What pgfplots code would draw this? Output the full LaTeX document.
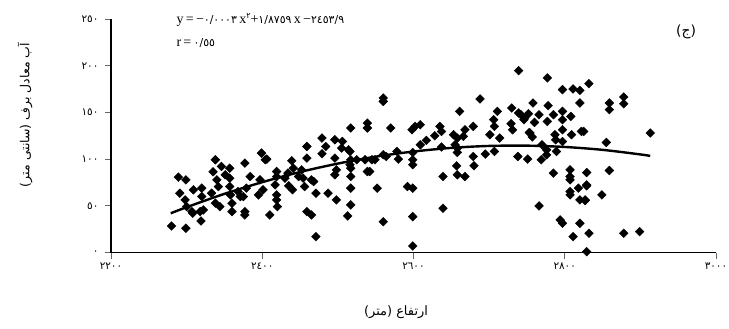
\documentclass[border=0pt]{standalone}
\usepackage{pgfplots}
\pgfplotsset{compat=1.18}
\usepackage{fontspec}
\setmainfont{Liberation Serif}
\newfontfamily\arabicfont[Script=Arabic]{DejaVu Sans}
\TeXXeTstate=1
\begin{document}
\begin{tikzpicture}
\path[use as bounding box] (-111bp,-76.5bp) rectangle (618bp,252.5bp);
\begin{axis}[
 at={(0,0)}, anchor=south west,
 scale only axis, width=605bp, height=233.5bp,
 xmin=2200, xmax=3000, ymin=0, ymax=250,
 axis x line*=bottom, axis y line*=left,
 axis line style={-, line width=1.3bp, black},
 tick align=outside, major tick length=6bp,
 tick style={black!60, line width=0.8bp},
 xtick={2200,2400,2600,2800,3000},
 xticklabels={٢٢٠٠,٢٤٠٠,٢٦٠٠,٢٨٠٠,٣٠٠٠},
 ytick={0,50,100,150,200,250},
 yticklabels={٠,٥٠,١٠٠,١٥٠,٢٠٠,٢٥٠},
 ticklabel style={font=\arabicfont\fontsize{10.5}{12}\selectfont},
 yticklabel style={xshift=-3bp},
 xticklabel style={yshift=-1bp},
 clip=false,
]
\addplot[only marks, mark=square*, mark size=3.1bp, mark options={rotate=45, fill=black, draw=black}] coordinates {
(2280,28.4)(2299,26.0)(2289,80.7)(2299,77.8)(2291,63.5)(2298,56.3)(2300,49.1)(2307,43.8)(2309,67.1)(2320,68.9)
(2320,59.9)(2318,43.8)(2319,33.8)(2333,63.5)(2338,99.3)(2340,77.8)(2338,52.8)(2344,49.1)(2346,92.1)(2357,90.3)
(2357,79.6)(2357,70.6)(2360,43.8)(2368,65.2)(2377,95.7)(2377,43.8)(2377,40.2)(2384,81.3)(2379,68.9)(2375,59.9)
(2395,61.7)(2399,106.4)(2404,99.3)(2397,77.8)(2401,67.1)(2358,61.7)(2360,52.8)(2342,70.6)(2371,59.9)(2308,42.1)
(2322,45.6)(2335,86.4)(2351,83.2)
(2406,100.0)(2410,40.2)(2419,86.7)(2419,81.3)(2417,72.4)(2419,61.7)(2419,56.3)(2420,49.1)(2434,85.0)(2430,79.6)
(2435,71.4)(2439,98.2)(2441,90.3)(2440,67.1)(2448,81.3)(2452,88.5)(2454,79.6)(2456,70.6)(2459,113.5)(2459,101.1)
(2459,43.8)(2465,40.2)(2465,77.8)(2471,63.5)(2471,17.0)(2479,122.5)(2484,113.5)(2479,105.7)(2487,63.5)(2498,56.3)
(2496,120.7)(2506,118.9)(2505,111.8)(2496,101.1)(2498,88.5)(2496,83.2)(2516,108.2)(2517,99.3)(2516,93.9)(2517,90.3)
(2517,133.3)(2517,81.3)(2517,68.9)(2517,51.0)(2513,39.2)(2525,99.3)(2539,138.6)(2539,133.3)(2539,86.7)(2536,99.3)
(2468,76.0)(2514,110.0)
(2545,99.3)(2560,165.5)(2560,161.8)(2570,133.3)(2549,99.3)(2542,86.7)(2552,68.9)(2560,104.6)(2564,102.8)(2560,33.0)
(2578,108.2)(2580,100.0)(2592,70.6)(2599,68.9)(2599,38.4)(2599,7.0)(2599,107.1)(2599,99.3)(2599,93.9)(2598,131.4)
(2602,135.0)(2609,136.8)(2609,115.3)(2617,120.0)(2628,125.0)(2635,135.0)(2637,129.6)(2637,112.9)(2639,81.3)(2639,47.4)
(2653,126.1)(2658,122.5)(2655,115.3)(2658,111.8)(2658,107.1)(2657,92.8)(2658,83.2)(2668,81.3)(2661,151.1)(2668,131.4)
(2666,124.3)(2679,135.0)(2679,102.8)(2680,92.8)(2688,164.4)
(2695,105.4)(2701,126.1)(2706,142.2)(2707,135.0)(2707,108.2)(2711,151.1)(2714,122.5)(2730,154.7)(2729,137.9)(2731,131.4)
(2739,194.7)(2738,102.8)(2739,149.4)(2747,144.0)(2751,100.0)(2752,148.6)(2754,127.9)(2757,123.6)(2758,160.1)(2760,139.3)
(2766,147.5)(2766,49.9)(2770,115.3)(2769,99.3)(2776,110.0)(2776,104.6)(2777,186.9)(2778,157.2)(2777,140.3)(2785,147.5)
(2785,85.0)(2787,126.1)(2788,120.7)(2789,108.2)(2797,174.4)(2797,151.1)(2797,142.2)(2797,131.4)(2797,118.9)(2808,145.7)
(2809,126.1)(2807,88.5)(2807,81.3)(2807,61.7)(2811,175.1)(2820,173.6)(2820,160.1)(2822,129.6)(2794,34.9)(2797,31.3)
(2811,17.0)(2820,31.3)(2818,68.9)(2820,56.3)(2807,77.8)(2807,65.2)(2827,55.6)(2829,72.4)(2829,85.6)(2753,128.5)
(2746,142.2)(2742,147.5)
(2832,180.8)(2859,160.1)(2859,152.9)(2878,166.5)(2878,159.3)(2825,129.6)(2855,117.8)(2913,127.9)(2859,87.8)(2829,71.4)
(2827,56.3)(2849,61.7)(2832,20.6)(2829,0.9)(2878,20.6)(2899,22.3)
};
\addplot[black, line width=2.4bp, smooth] coordinates {
(2279,42)(2300,48.5)(2350,62.8)(2400,75.3)(2450,86.2)(2500,95.2)(2550,102.6)(2600,108.1)(2650,112.0)(2700,114.1)(2750,114.4)(2800,113.0)(2850,109.9)(2900,105.0)(2913,103.4)
};
\end{axis}
\node[rotate=90] at (-86bp,137.5bp) {\arabicfont\fontsize{12.5}{14}\selectfont\beginR آب معادل برف (سانتی متر)\endR};
\node at (285bp,-59.5bp) {\arabicfont\fontsize{13}{15}\selectfont\beginR ارتفاع (متر)\endR};
\node[anchor=west] at (62bp,232.5bp) {\fontsize{14}{16}\selectfont y\,=\,−{\arabicfont\fontsize{11}{12}\selectfont ٠/٠٠٠٣}\,x\raisebox{0.9ex}{\arabicfont\fontsize{8}{9}\selectfont ٢}+{\arabicfont\fontsize{11}{12}\selectfont ١/٨٧٥٩}\,x\,−{\arabicfont\fontsize{11}{12}\selectfont ٢٤٥٣/٩}};
\node[anchor=west] at (62bp,209.5bp) {\fontsize{14}{16}\selectfont r\,=\,{\arabicfont\fontsize{11}{12}\selectfont ٠/٥٥}};
\node at (575bp,220.5bp) {\arabicfont\fontsize{14}{16}\selectfont (ج)};
\end{tikzpicture}
\end{document}
